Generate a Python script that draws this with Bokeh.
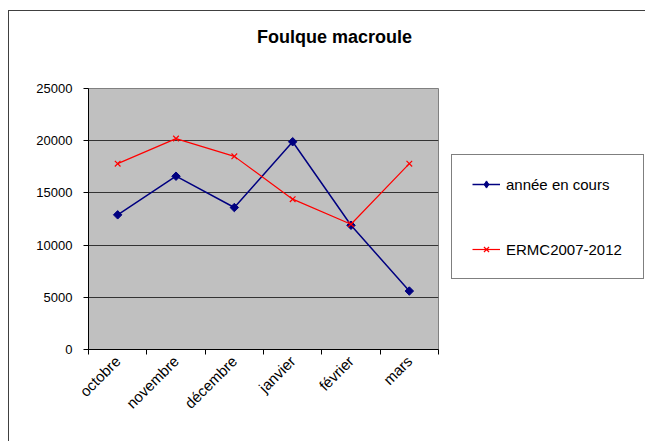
from math import pi
from bokeh.plotting import figure
from bokeh.layouts import column, row
from bokeh.models import (FixedTicker, Legend, LegendItem, Label, Range1d, ColumnDataSource)
from bokeh.embed import file_html
from bokeh.resources import INLINE

chart_title = "Foulque macroule"
months = ["octobre", "novembre", "décembre", "janvier", "février", "mars"]
annee_en_cours = [12900, 16600, 13600, 19900, 11900, 5600]
ermc_2007_2012 = [17800, 20200, 18500, 14400, 12000, 17800]
series_names = ["année en cours", "ERMC2007-2012"]
y_ticks = [0, 5000, 10000, 15000, 20000, 25000]

FONT = "Liberation Sans"
BLUE = "#000080"
RED = "#FF0000"
xpos = [i + 0.5 for i in range(len(months))]
boundaries = list(range(len(months) + 1))


def blank(fig):
    fig.min_border = 0
    fig.outline_line_color = None
    fig.background_fill_color = "white"
    fig.border_fill_color = "white"
    fig.grid.visible = False


# ---- title strip -------------------------------------------------------
t = figure(width=636, height=50, output_backend="svg", toolbar_location=None,
           x_axis_location=None, y_axis_location=None,
           x_range=Range1d(0, 1), y_range=Range1d(0, 1))
blank(t)
t.add_layout(Label(x=325, y=25, x_units="screen", y_units="screen", text=chart_title,
                   text_align="center", text_baseline="middle", text_font=FONT,
                   text_font_size="18px", text_font_style="bold", text_color="black"))

# ---- main plot ---------------------------------------------------------
p = figure(width=439, height=380, output_backend="svg", toolbar_location=None,
           x_range=Range1d(0, len(months)), y_range=Range1d(y_ticks[0], y_ticks[-1]),
           min_border_left=79, min_border_right=10, min_border_top=27,
           min_border_bottom=92)
p.background_fill_color = "#C0C0C0"
p.border_fill_color = "white"
p.outline_line_color = "#808080"
p.outline_line_width = 1

p.xgrid.visible = False
p.ygrid.ticker = FixedTicker(ticks=y_ticks)
p.ygrid.grid_line_color = "#333333"
p.ygrid.grid_line_width = 1

ya = p.yaxis[0]
ya.ticker = FixedTicker(ticks=y_ticks)
ya.axis_line_color = "black"
ya.major_tick_line_color = "black"
ya.major_tick_out = 5
ya.major_tick_in = 0
ya.minor_tick_line_color = None
ya.major_label_standoff = 11
ya.major_label_text_font = FONT
ya.major_label_text_font_size = "13px"
ya.major_label_text_color = "black"

xa = p.xaxis[0]
xa.ticker = FixedTicker(ticks=xpos, minor_ticks=boundaries)
xa.major_label_overrides = {x: m for x, m in zip(xpos, months)}
xa.axis_line_color = "black"
xa.major_tick_out = 0
xa.major_tick_in = 0
xa.minor_tick_out = 5
xa.minor_tick_in = 0
xa.minor_tick_line_color = "black"
xa.major_label_orientation = pi / 4
xa.major_label_standoff = 4
xa.major_label_text_font = FONT
xa.major_label_text_font_size = "15px"
xa.major_label_text_color = "black"

src = ColumnDataSource(dict(x=xpos, a=annee_en_cours, b=ermc_2007_2012))
p.line("x", "a", source=src, line_color=BLUE, line_width=1.5)
p.scatter("x", "a", source=src, marker="square", angle=pi / 4, size=6,
          fill_color=BLUE, line_color=BLUE)
p.line("x", "b", source=src, line_color=RED, line_width=1.2)
p.scatter("x", "b", source=src, marker="x", size=8, line_color=RED, line_width=1.2)

# ---- legend panel ------------------------------------------------------
q = figure(width=197, height=380, output_backend="svg", toolbar_location=None,
           x_axis_location=None, y_axis_location=None,
           x_range=Range1d(0, 1), y_range=Range1d(0, 1))
blank(q)
# same series drawn here only as legend keys (they fall outside this panel's range)
l1 = q.line("x", "a", source=src, line_color=BLUE, line_width=1.5)
s1 = q.scatter("x", "a", source=src, marker="diamond", size=9,
               fill_color=BLUE, line_color=BLUE)
l2 = q.line("x", "b", source=src, line_color=RED, line_width=1.2)
s2 = q.scatter("x", "b", source=src, marker="x", size=8, line_color=RED,
               line_width=1.2)

legend = Legend(items=[LegendItem(label=series_names[0], renderers=[l1, s1]),
                       LegendItem(label=series_names[1], renderers=[l2, s2])],
                location=(3, 70), margin=0, padding=20, spacing=47,
                glyph_width=28, glyph_height=18, label_height=18, label_width=117,
                label_standoff=6, border_line_color="black", border_line_width=1,
                background_fill_color="white", background_fill_alpha=1.0,
                label_text_font=FONT, label_text_font_size="15px",
                label_text_color="black")
q.add_layout(legend)

layout = column(t, row(p, q))
layout.styles = {"margin-left": "8px", "margin-top": "10px",
                 "border-left": "1px solid #404040", "border-top": "1px solid #404040"}

open("out.html", "w").write(file_html(layout, INLINE))
